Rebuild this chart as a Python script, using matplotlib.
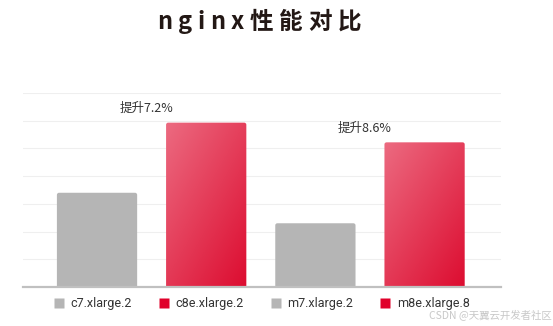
import matplotlib
matplotlib.use("Agg")
import matplotlib.pyplot as plt
import numpy as np
from matplotlib.patches import FancyBboxPatch
from matplotlib.colors import LinearSegmentedColormap
from matplotlib.lines import Line2D

plt.rcParams['font.family'] = ['Noto Sans CJK SC', 'DejaVu Sans']

categories = ['c7.xlarge.2', 'c8e.xlarge.2', 'm7.xlarge.2', 'm8e.xlarge.8']
values = [35100, 37630, 34000, 36920]
is_new = [False, True, False, True]
annotations = [(1, '提升7.2%'), (3, '提升8.6%')]
title_text = 'nginx性能对比'

GRAY = '#b5b5b5'
RED = '#e0002a'
cmap = LinearSegmentedColormap.from_list('g', ['#ec6a80', '#dc0a2e'])

fig = plt.figure(figsize=(5.53, 3.26), dpi=100)
ax = fig.add_axes([23/553, 39/326, 478/553, 194/326])
ymin, step = 31700, 1000
ax.set_ylim(ymin, ymin + 7*step)
ax.set_xlim(-0.678, 3.70)
ax.set_yticks([ymin + k*step for k in range(8)])
ax.yaxis.grid(True, color='#efefef', lw=0.8)
ax.set_axisbelow(True)
for s in ['top', 'right', 'left']:
    ax.spines[s].set_visible(False)
ax.spines['bottom'].set_color('#c0c0c0')
ax.spines['bottom'].set_linewidth(1.6)
ax.spines['bottom'].set_zorder(5)
ax.tick_params(left=False, bottom=False, labelleft=False, labelbottom=False)

x = np.arange(len(categories))
bars = ax.bar(x, np.array(values) - ymin, width=0.735, bottom=ymin, color='none')

rx = 0.02
ry = 75
for b, new in zip(bars, is_new):
    x0, y0 = b.get_x(), b.get_y() - 300
    w, h = b.get_width(), b.get_height() + 300
    p = FancyBboxPatch((x0, y0), w, h,
                       boxstyle=f'round,pad=0,rounding_size={rx}',
                       mutation_aspect=ry/rx,
                       facecolor=GRAY if not new else 'none',
                       edgecolor='none', zorder=3, clip_on=True)
    ax.add_patch(p)
    if new:
        n = 100
        gx, gy = np.meshgrid(np.linspace(0, 1, n), np.linspace(0, 1, n))
        grad = gx * 0.45 + (1 - gy) * 0.55
        im = ax.imshow(grad, cmap=cmap, extent=(x0, x0 + w, y0, y0 + h),
                       origin='lower', aspect='auto', zorder=3, vmin=0, vmax=1)
        im.set_clip_path(p)
ax.set_xlim(-0.678, 3.70)
ax.set_ylim(ymin, ymin + 7*step)

for i, txt in annotations:
    ax.annotate(txt, xy=(i - 0.55, values[i]), xytext=(0, 10),
                textcoords='offset points', ha='center', va='center',
                fontsize=9, color='#333333')

# title with letter spacing
fig.canvas.draw()
renderer = fig.canvas.get_renderer()
chars = list(title_text)
texts = []
for ch in chars:
    t = fig.text(0, 1 - 22/326, ch, fontsize=17, fontweight='bold',
                 color='#231815', ha='left', va='center')
    texts.append(t)
ws = [t.get_window_extent(renderer).width for t in texts]
left, right = 157, 361
gap = (right - left - sum(ws)) / (len(ws) - 1)
xpos = left
for t, w in zip(texts, ws):
    t.set_x(xpos / 553)
    xpos += w + gap

handles = [Line2D([0], [0], marker='s', linestyle='none', markersize=7,
                  markerfacecolor=(RED if n else GRAY), markeredgecolor='none')
           for n in is_new]
fig.legend(handles, categories, loc='center', bbox_to_anchor=(261/553, 1 - 304/326),
           ncol=4, frameon=False, columnspacing=2.1,
           handletextpad=0.4, handlelength=1.0, labelcolor='#333333',
           prop={'family': ['Roboto', 'Noto Sans CJK SC'], 'size': 9})

fig.text(552/553, 1 - 315/326, 'CSDN @天翼云开发者社区', fontsize=7.5,
         color='#c8c8c8', ha='right', va='center')

fig.savefig('out.png', dpi=100)
